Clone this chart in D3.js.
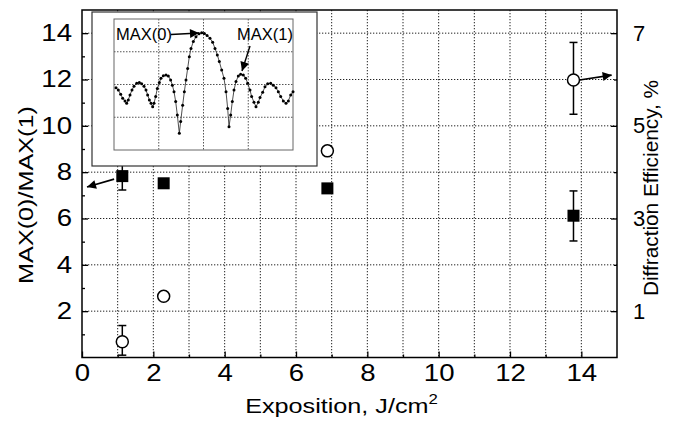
<!DOCTYPE html>
<html><head><meta charset="utf-8">
<script src="https://cdn.jsdelivr.net/npm/d3@7"></script>
<style>
html,body{margin:0;padding:0;background:#fff;}
svg{display:block;font-family:"Liberation Sans",Arial,Helvetica,sans-serif;}
</style></head>
<body>
<svg id="chart" width="677" height="424"></svg>
<script>
// ---- data ----
const exposition = [1.13, 2.29, 6.88, 13.78];              // J/cm^2
const ratio = [7.83, 7.52, 7.30, 6.12];                    // MAX(0)/MAX(1), left axis
const ratioErrLow = [7.23, null, null, 5.03];
const ratioErrHigh = [8.41, null, null, 7.19];
const efficiency = [0.34, 1.32, 4.46, 5.99];               // Diffraction efficiency %, right axis
const effErrLow = [0.05, null, null, 5.25];
const effErrHigh = [0.69, null, null, 6.80];
const xMajorTicks = [0, 2, 4, 6, 8, 10, 12, 14];
const xMinorTicks = [1, 3, 5, 7, 9, 11, 13];
const yMajorTicks = [2, 4, 6, 8, 10, 12, 14];
const yMinorTicks = [1, 3, 5, 7, 9, 11, 13];
const rightTicks = [1, 3, 5, 7];
const rightMinorTicks = [2, 4, 6];
// inset: diffraction pattern dots (grid units 0..4)
const insetX = [0.045,0.097,0.149,0.194,0.246,0.283,0.320,0.358,0.402,0.447,0.507,0.566,0.618,0.670,0.715,0.752,0.790,0.827,0.864,0.894,0.931,0.968,1.013,1.050,1.102,1.162,1.214,1.266,1.304,1.341,1.378,1.415,1.460,1.490,1.534,1.572,1.609,1.646,1.683,1.721,1.773,1.832,1.900,1.960,2.020,2.080,2.145,2.205,2.257,2.309,2.354,2.406,2.458,2.503,2.540,2.570,2.607,2.644,2.682,2.726,2.778,2.830,2.890,2.942,2.987,3.039,3.076,3.128,3.173,3.225,3.263,3.322,3.374,3.434,3.501,3.560,3.620,3.672,3.725,3.784,3.844,3.896,3.948,4.000];
const insetY = [1.90,1.83,1.70,1.58,1.50,1.43,1.53,1.68,1.83,1.95,2.04,2.06,2.02,1.95,1.83,1.68,1.53,1.43,1.32,1.43,1.63,1.88,2.06,2.19,2.27,2.29,2.26,2.14,1.98,1.78,1.48,1.07,0.51,0.87,1.37,1.78,2.14,2.49,2.85,3.10,3.31,3.46,3.55,3.58,3.56,3.50,3.41,3.29,3.10,2.90,2.70,2.44,2.19,1.78,1.27,0.71,1.07,1.48,1.83,2.09,2.26,2.31,2.29,2.19,2.04,1.83,1.63,1.46,1.32,1.46,1.60,1.76,1.93,2.02,2.04,1.98,1.90,1.78,1.63,1.50,1.43,1.50,1.68,1.78];
const insetGrid = [1, 2, 3];
// annotation arrows (data coordinates, left axis units)
const arrowLeft = {x1: 0.90, y1: 7.70, x2: 0.14, y2: 7.36};
const arrowRight = {x1: 13.95, y1: 11.98, x2: 14.85, y2: 12.19};

// ---- layout ----
const W = 677, H = 424;
const m = {left: 82, top: 10, right: 60, bottom: 66.5};
const pw = W - m.left - m.right, ph = H - m.top - m.bottom;
const svg = d3.select("#chart");
const g = svg.append("g").attr("transform", `translate(${m.left},${m.top})`);

const x = d3.scaleLinear().domain([0, 15]).range([0, pw]);
const y = d3.scaleLinear().domain([0, 15]).range([ph, 0]);
const yR = d3.scaleLinear().domain([0, 7.5]).range([ph, 0]);

// grid
const gridDash = "1.3,1.7";
g.append("g").selectAll("line").data(d3.range(1, 15)).join("line")
  .attr("x1", d => x(d)).attr("x2", d => x(d)).attr("y1", 0).attr("y2", ph)
  .attr("stroke", "#222").attr("stroke-width", 1).attr("stroke-dasharray", gridDash);
g.append("g").selectAll("line").data(yMajorTicks).join("line")
  .attr("x1", 0).attr("x2", pw).attr("y1", d => y(d)).attr("y2", d => y(d))
  .attr("stroke", "#222").attr("stroke-width", 1).attr("stroke-dasharray", gridDash);

// frame
g.append("rect").attr("x", 0).attr("y", 0).attr("width", pw).attr("height", ph)
  .attr("fill", "none").attr("stroke", "#000").attr("stroke-width", 1.5);

function styleAxis(fontSize, stretch) {
  return function (sel) {
    sel.select(".domain").remove();
    sel.selectAll(".tick line").attr("stroke", "#000").attr("stroke-width", 1.3);
    sel.selectAll(".tick text").attr("font-size", fontSize).attr("fill", "#000")
       .attr("font-family", '"Liberation Sans",Arial,sans-serif')
       .attr("transform", function () {
          const ax = +d3.select(this).attr("x") || 0;
          return `translate(${ax * (1 - stretch)},0) scale(${stretch},1)`;
       });
  };
}
// bottom axis
g.append("g").attr("transform", `translate(0,${ph})`)
  .call(d3.axisBottom(x).tickValues(xMajorTicks).tickSizeInner(-6).tickSizeOuter(0).tickPadding(7).tickFormat(d3.format("d")))
  .call(styleAxis(23, 1.2));
g.append("g").attr("transform", `translate(0,${ph})`)
  .call(d3.axisBottom(x).tickValues(xMinorTicks).tickSizeInner(-3).tickSizeOuter(0).tickFormat(""))
  .call(styleAxis(23, 1));
// left axis
g.append("g")
  .call(d3.axisLeft(y).tickValues(yMajorTicks).tickSizeInner(-6).tickSizeOuter(0).tickPadding(10).tickFormat(d3.format("d")))
  .call(styleAxis(23, 1.2));
g.append("g")
  .call(d3.axisLeft(y).tickValues(yMinorTicks).tickSizeInner(-3).tickSizeOuter(0).tickFormat(""))
  .call(styleAxis(23, 1));
// right axis
g.append("g").attr("transform", `translate(${pw},0)`)
  .call(d3.axisRight(yR).tickValues(rightTicks).tickSizeInner(-6).tickSizeOuter(0).tickPadding(16).tickFormat(d3.format("d")))
  .call(styleAxis(22, 1));
g.append("g").attr("transform", `translate(${pw},0)`)
  .call(d3.axisRight(yR).tickValues(rightMinorTicks).tickSizeInner(-3).tickSizeOuter(0).tickFormat(""))
  .call(styleAxis(22, 1));

// axis titles
const xt = svg.append("text").attr("transform", `translate(${m.left + pw / 2 - 8},413) scale(1.2,1)`)
  .attr("text-anchor", "middle").attr("font-size", 21).attr("fill", "#000");
xt.append("tspan").text("Exposition, J/cm");
xt.append("tspan").attr("dy", -9).attr("font-size", 14).text("2");
svg.append("text").attr("transform", `translate(33,195) rotate(-90) scale(1.2,1)`)
  .attr("text-anchor", "middle").attr("font-size", 21).attr("fill", "#000").text("MAX(0)/MAX(1)");
svg.append("text").attr("transform", `translate(658,188) rotate(-90) scale(1.04,1)`)
  .attr("text-anchor", "middle").attr("font-size", 20).attr("fill", "#000").text("Diffraction Efficiency, %");

// arrow marker
svg.append("defs").append("marker").attr("id", "ah").attr("viewBox", "0 0 10 10")
  .attr("refX", 10).attr("refY", 5).attr("markerWidth", 12).attr("markerHeight", 9)
  .attr("markerUnits", "userSpaceOnUse").attr("orient", "auto")
  .append("path").attr("d", "M0,0 L10,5 L0,10 z").attr("fill", "#000");

// error bars
const capW = 4;
function errBars(xs, lo, hi, scale) {
  const idx = xs.map((d, i) => i).filter(i => lo[i] != null);
  const eg = g.append("g").attr("stroke", "#000").attr("stroke-width", 1.5);
  eg.selectAll(".v").data(idx).join("line")
    .attr("x1", i => x(xs[i])).attr("x2", i => x(xs[i]))
    .attr("y1", i => scale(lo[i])).attr("y2", i => scale(hi[i]));
  eg.selectAll(".t").data(idx).join("line")
    .attr("x1", i => x(xs[i]) - capW).attr("x2", i => x(xs[i]) + capW)
    .attr("y1", i => scale(hi[i])).attr("y2", i => scale(hi[i]));
  eg.selectAll(".b").data(idx).join("line")
    .attr("x1", i => x(xs[i]) - capW).attr("x2", i => x(xs[i]) + capW)
    .attr("y1", i => scale(lo[i])).attr("y2", i => scale(lo[i]));
}
errBars(exposition, ratioErrLow, ratioErrHigh, y);
errBars(exposition, effErrLow, effErrHigh, yR);

// squares
const sq = 12;
g.append("g").selectAll("rect").data(exposition).join("rect")
  .attr("x", (d, i) => x(d) - sq / 2).attr("y", (d, i) => y(ratio[i]) - sq / 2)
  .attr("width", sq).attr("height", sq).attr("fill", "#000");
// circles
g.append("g").selectAll("circle").data(exposition).join("circle")
  .attr("cx", d => x(d)).attr("cy", (d, i) => yR(efficiency[i])).attr("r", 6)
  .attr("fill", "#fff").attr("stroke", "#000").attr("stroke-width", 1.5);

// main arrows
[arrowLeft, arrowRight].forEach(a => {
  g.append("line").attr("x1", x(a.x1)).attr("y1", y(a.y1)).attr("x2", x(a.x2)).attr("y2", y(a.y2))
    .attr("stroke", "#000").attr("stroke-width", 1.6).attr("marker-end", "url(#ah)");
});

// ---- inset ----
const inset = {x: 92, y: 12, w: 225, h: 154};
const ip = {x: 114, y: 19, w: 179, h: 131};
svg.append("rect").attr("x", inset.x).attr("y", inset.y).attr("width", inset.w).attr("height", inset.h)
  .attr("fill", "#fff").attr("stroke", "#333").attr("stroke-width", 1.2);
const ig = svg.append("g").attr("transform", `translate(${ip.x},${ip.y})`);
const ix = d3.scaleLinear().domain([0, 4]).range([0, ip.w]);
const iy = d3.scaleLinear().domain([0, 4]).range([ip.h, 0]);
ig.append("g").selectAll("line").data(insetGrid).join("line")
  .attr("x1", d => ix(d)).attr("x2", d => ix(d)).attr("y1", 0).attr("y2", ip.h)
  .attr("stroke", "#555").attr("stroke-dasharray", "1.5,1.5");
ig.append("g").selectAll("line").data(insetGrid).join("line")
  .attr("y1", d => iy(d)).attr("y2", d => iy(d)).attr("x1", 0).attr("x2", ip.w)
  .attr("stroke", "#555").attr("stroke-dasharray", "1.5,1.5");
ig.append("rect").attr("width", ip.w).attr("height", ip.h).attr("fill", "none")
  .attr("stroke", "#666").attr("stroke-width", 1);
const pts = insetX.map((d, i) => [d, insetY[i]]);
ig.append("path").datum(pts)
  .attr("d", d3.line().x(d => ix(d[0])).y(d => iy(d[1])))
  .attr("fill", "none").attr("stroke", "#222").attr("stroke-width", 0.8);
ig.append("g").selectAll("circle").data(pts).join("circle")
  .attr("cx", d => ix(d[0])).attr("cy", d => iy(d[1])).attr("r", 1.5).attr("fill", "#000");

// inset labels & arrows
svg.append("text").attr("x", 116).attr("y", 40).attr("font-size", 16.5).attr("fill", "#000").text("MAX(0)");
svg.append("line").attr("x1", 171).attr("y1", 34.5).attr("x2", 199).attr("y2", 33)
  .attr("stroke", "#000").attr("stroke-width", 1.4).attr("marker-end", "url(#ah)");
svg.append("text").attr("x", 237).attr("y", 40).attr("font-size", 16.5).attr("fill", "#000").text("MAX(1)");
svg.append("line").attr("x1", 250).attr("y1", 46).attr("x2", 242).attr("y2", 71)
  .attr("stroke", "#000").attr("stroke-width", 1.4).attr("marker-end", "url(#ah)");
</script>
</body></html>
